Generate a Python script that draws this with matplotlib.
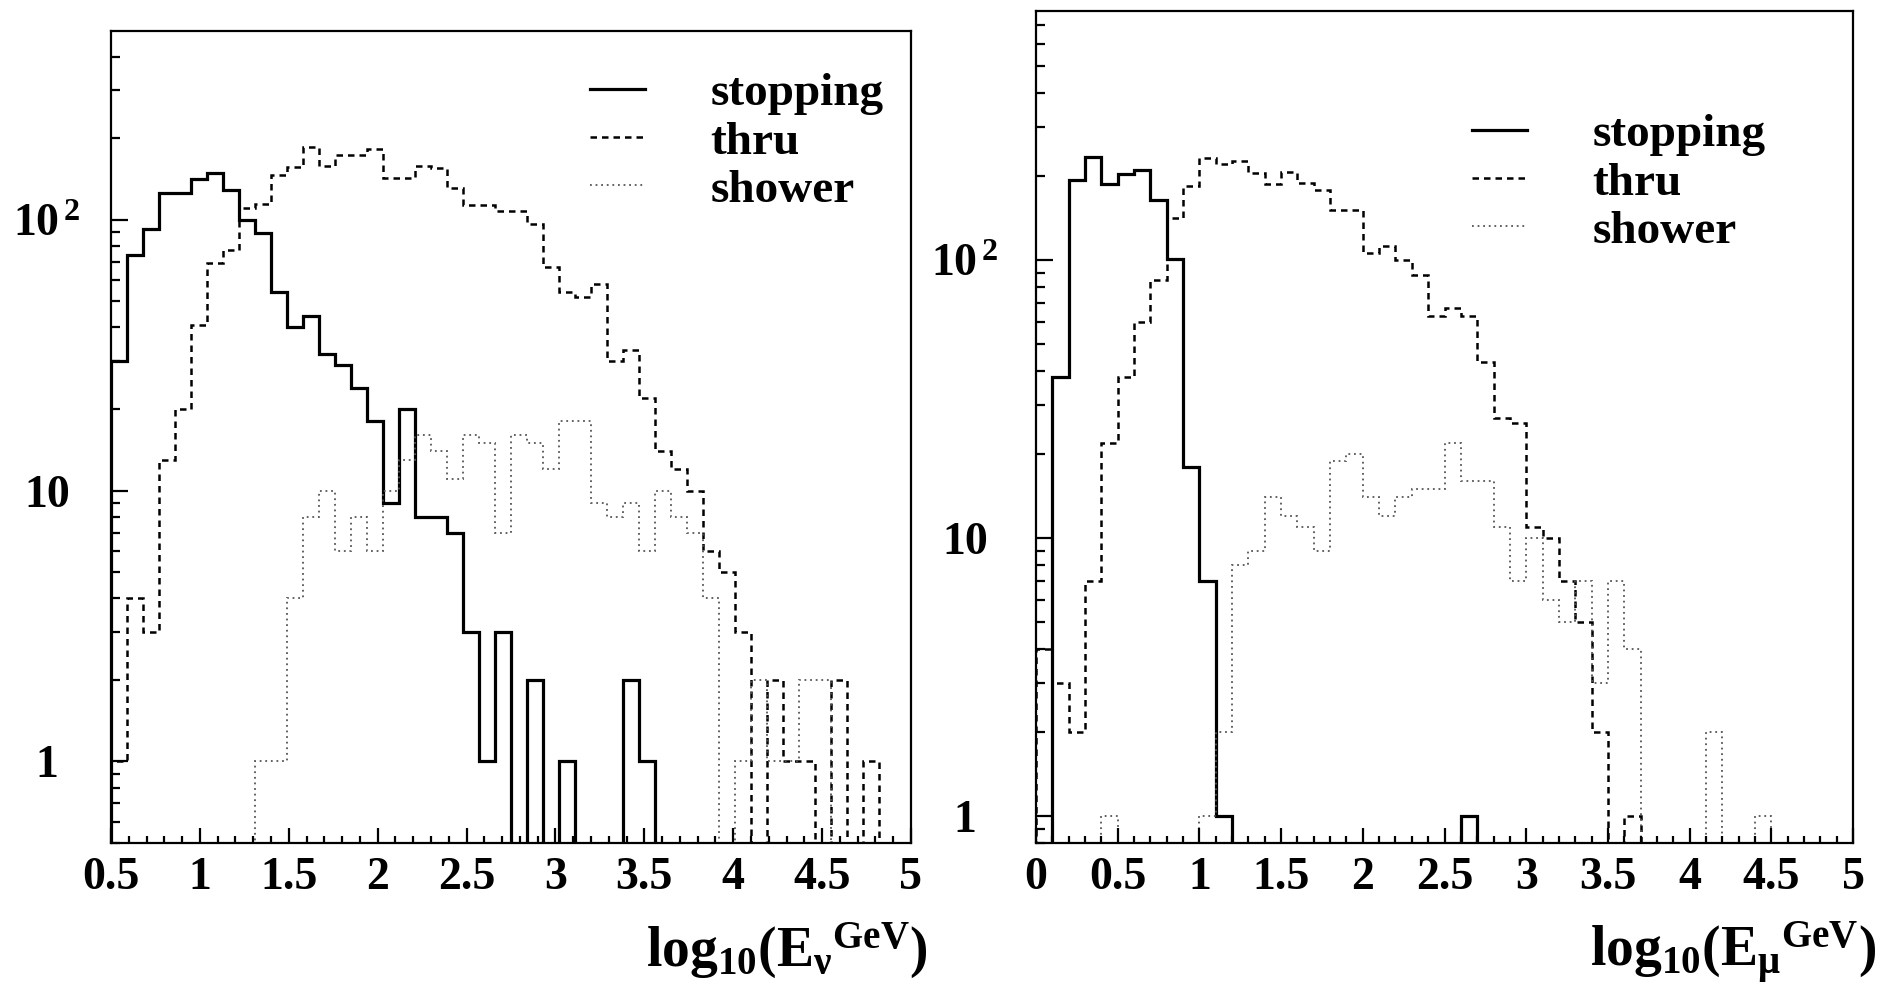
import numpy as np
import matplotlib
matplotlib.use("Agg")
import matplotlib.pyplot as plt
from matplotlib.ticker import (FixedLocator, FixedFormatter, MultipleLocator,
                               LogLocator, NullFormatter, FuncFormatter)

plt.rcParams["font.family"] = "Liberation Serif"
plt.rcParams["font.weight"] = "bold"
plt.rcParams["mathtext.fontset"] = "custom"
plt.rcParams["mathtext.rm"] = "Liberation Serif:bold"
plt.rcParams["mathtext.it"] = "Liberation Serif:bold"
plt.rcParams["mathtext.bf"] = "Liberation Serif:bold"

# neutrino energy: 50 bins of log10(E/GeV) from 0.5 to 5
nu_edges = np.linspace(0.5, 5.0, 51)
stop_nu = [30, 74, 92, 125, 125, 141, 149, 129, 100, 89,
           54, 40, 44, 32, 29, 24, 18, 9, 20, 8,
           8, 7, 3, 1, 3, 0, 2, 0, 1, 0,
           0, 0, 2, 1, 0, 0, 0, 0, 0, 0,
           0, 0, 0, 0, 0, 0, 0, 0, 0, 0]
thru_nu = [1, 4, 3, 13, 20, 41, 69, 77, 110, 114,
           146, 156, 186, 158, 173, 173, 182, 143, 143, 158,
           155, 131, 113, 113, 108, 108, 96, 67, 54, 52,
           58, 30, 33, 22, 14, 12, 10, 6, 5, 3,
           0, 2, 1, 1, 0, 2, 0, 1, 0, 0]
shower_nu = [0, 0, 0, 0, 0, 0, 0, 0, 0, 1,
             1, 4, 8, 10, 6, 8, 6, 10, 13, 16,
             14, 11, 16, 15, 7, 16, 15, 12, 18, 18,
             9, 8, 9, 6, 10, 8, 7, 4, 0, 1,
             2, 1, 1, 2, 2, 0, 0, 0, 0, 0]

# muon energy: 50 bins of log10(E/GeV) from 0 to 5
mu_edges = np.linspace(0.0, 5.0, 51)
stop_mu = [0, 38, 194, 234, 187, 203, 210, 164, 101, 18,
           7, 1, 0, 0, 0, 0, 0, 0, 0, 0,
           0, 0, 0, 0, 0, 0, 1, 0, 0, 0,
           0, 0, 0, 0, 0, 0, 0, 0, 0, 0,
           0, 0, 0, 0, 0, 0, 0, 0, 0, 0]
thru_mu = [4, 3, 2, 7, 22, 38, 60, 85, 141, 185,
           233, 221, 227, 205, 187, 208, 189, 179, 151, 151,
           106, 112, 100, 88, 63, 67, 63, 43, 27, 26,
           11, 10, 7, 5, 2, 0, 1, 0, 0, 0,
           0, 0, 0, 0, 0, 0, 0, 0, 0, 0]
shower_mu = [0, 0, 0, 0, 1, 0, 0, 0, 0, 0,
             1, 2, 8, 9, 14, 12, 11, 9, 19, 20,
             14, 12, 14, 15, 15, 22, 16, 16, 11, 7,
             10, 6, 5, 7, 3, 7, 4, 0, 0, 0,
             0, 2, 0, 0, 1, 0, 0, 0, 0, 0]

labels = ["stopping", "thru", "shower"]
styles = [dict(color="black", lw=2.3, ls="-"),
          dict(color="black", lw=1.8, ls=(0, (2.6, 2.0))),
          dict(color="#555555", lw=1.3, ls=(0, (1, 2.1)))]

fig = plt.figure(figsize=(18.83, 9.96), dpi=100)
ax1 = fig.add_axes([0.05895, 0.15361, 0.42485, 0.81526])
ax2 = fig.add_axes([0.55019, 0.15361, 0.43388, 0.83534])


def draw_panel(ax, edges, series, ylim, xlabel, leg_pos, label_pos, ypad):
    for vals, lab, st in zip(series, labels, styles):
        ax.stairs(vals, edges, baseline=0, label=lab, **st)
    ax.set_yscale("log")
    ax.set_xlim(edges[0], edges[-1])
    ax.set_ylim(*ylim)

    ax.xaxis.set_major_locator(MultipleLocator(0.5))
    ax.xaxis.set_minor_locator(MultipleLocator(0.1))
    ax.xaxis.set_major_formatter(FuncFormatter(lambda v, p: "%g" % v))
    ax.yaxis.set_major_locator(FixedLocator([1, 10, 100]))
    ax.yaxis.set_major_formatter(FixedFormatter(["1", "10", r"$10^{\,2}$"]))
    ax.yaxis.set_minor_locator(LogLocator(base=10, subs=np.arange(2, 10)))
    ax.yaxis.set_minor_formatter(NullFormatter())

    ax.tick_params(which="both", direction="in", top=False, right=False,
                   width=1.6, labelsize=33)
    ax.tick_params(axis="x", which="major", length=11, pad=10)
    ax.tick_params(axis="x", which="minor", length=5)
    ax.tick_params(axis="y", which="major", length=12, pad=ypad)
    ax.tick_params(axis="y", which="minor", length=6.5)
    for t in ax.get_yticklabels():
        t.set_horizontalalignment("center")
    for s in ax.spines.values():
        s.set_linewidth(1.6)

    ax.set_xlabel(xlabel, fontsize=40)
    ax.xaxis.set_label_coords(*label_pos)
    ax.xaxis.label.set_horizontalalignment("right")
    ax.xaxis.label.set_verticalalignment("baseline")

    ax.legend(loc="upper left", bbox_to_anchor=leg_pos, frameon=False,
              fontsize=34, handlelength=1.15, handletextpad=1.4,
              labelspacing=0.11, borderpad=0, borderaxespad=0)


draw_panel(ax1, nu_edges, [stop_nu, thru_nu, shower_nu], (0.5, 497),
           r"$\mathrm{log_{10}(E_{\nu}{}^{GeV})}$",
           (0.599, 0.949), (1.021, -0.153), 46)
draw_panel(ax2, mu_edges, [stop_mu, thru_mu, shower_mu], (0.8, 786),
           r"$\mathrm{log_{10}(E_{\mu}{}^{GeV})}$",
           (0.534, 0.877), (1.028, -0.149), 51)

fig.savefig("out.png", dpi=100)
